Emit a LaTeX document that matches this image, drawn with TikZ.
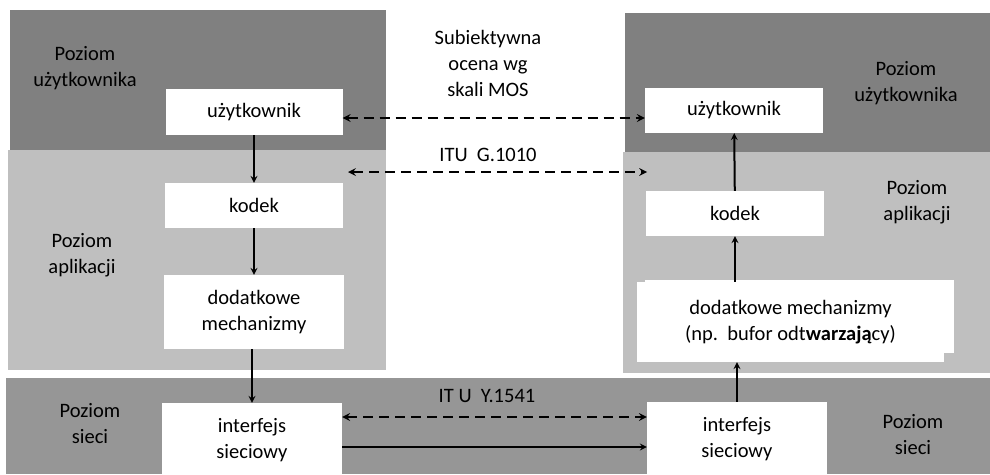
\documentclass[tikz,border=0pt]{standalone}
\usepackage{fontspec}
\setmainfont{Carlito}
\usepackage{xcolor}
\usepackage{tikz}
\usetikzlibrary{arrows}
\usetikzlibrary{positioning}

\definecolor{poziomU}{HTML}{808080}
\definecolor{poziomA}{HTML}{BFBFBF}
\definecolor{poziomS}{HTML}{969696}

\begin{document}
\begin{tikzpicture}[x=1pt,y=-1pt,>=stealth,
  font=\fontsize{20.5}{26}\selectfont,
  blok/.style={fill=white,inner sep=0pt,align=center},
  opis/.style={align=center,inner sep=0pt},
  strz/.style={line width=2pt},
  przer/.style={line width=2.4pt,dash pattern=on 10pt off 6pt}]
\useasboundingbox (0,0) rectangle (990,474);
% tla poziomow
\fill[poziomU] (10,10) rectangle (386,150);
\fill[poziomA] (8,150) rectangle (386,370);
\fill[poziomU] (625,13) rectangle (990,152);
\fill[poziomA] (623,152) rectangle (990,373);
\fill[poziomS] (6,378) rectangle (990,474);
\fill[white] (645,280) rectangle (954,353);

% strona nadawcy
\node[blok,minimum width=177,minimum height=46] at (254,112) (uzL) {użytkownik};
\node[blok,minimum width=178,minimum height=45] at (254,205.5) (kodL) {kodek};
\node[blok,minimum width=180,minimum height=74] at (254,312) (dodL) {dodatkowe\\mechanizmy};
\node[blok,minimum width=180,minimum height=74] at (252,440) (ifL) {interfejs\\sieciowy};

% strona odbiorcy
\node[blok,minimum width=178,minimum height=45] at (734,110.5) (uzR) {użytkownik};
\node[blok,minimum width=178,minimum height=45] at (735,213.5) (kodR) {kodek};
\node[blok,minimum width=307,minimum height=80] at (790.5,322) (dodR) {dodatkowe mechanizmy\\(np.\ \ bufor odt\textbf{warzają}cy)};
\node[blok,minimum width=180,minimum height=74] at (737,439) (ifR) {interfejs\\sieciowy};

% opisy poziomow
\node[opis] at (85,68) (puL) {Poziom\\użytkownika};
\node[opis] at (906,83) (puR) {Poziom\\użytkownika};
\node[opis] at (82,255) (paL) {Poziom\\aplikacji};
\node[opis] at (917,202) (paR) {Poziom\\aplikacji};
\node[opis] at (90,424) (psL) {Poziom\\sieci};
\node[opis] at (913,435) (psR) {Poziom\\sieci};

% opisy pomiarow
\node[opis] at (488,63) (mos) {Subiektywna\\ocena wg\\skali MOS};
\node[opis] at (488,155) (g1010) {ITU\ \ G.1010};
\node[opis] at (487,396) (y1541) {IT U\ \ Y.1541};
\coordinate (g1010L) at (348,172);
\coordinate (g1010R) at (647,172);

\path[strz,->] (uzL) edge (kodL);
\path[strz,->] (kodL) edge (dodL);
\path[strz,->] (dodL.south -| ifL) edge (ifL);
\path[strz,->] (ifR) edge (ifR |- dodR.south);
\path[strz,->] (kodR |- dodR.north) edge (kodR);
\path[strz,->] (kodR) edge (uzR);

\path[przer,<->] ([yshift=-6]uzL.east) edge ([yshift=-6]uzL.east -| uzR.west);
\path[przer,<->] (g1010L) edge (g1010R);
\path[przer,<->] ([yshift=23]ifL.east) edge ([yshift=23]ifL.east -| ifR.west);
\path[strz,->] ([yshift=-7]ifL.east) edge ([yshift=-7]ifL.east -| ifR.west);
\end{tikzpicture}
\end{document}
